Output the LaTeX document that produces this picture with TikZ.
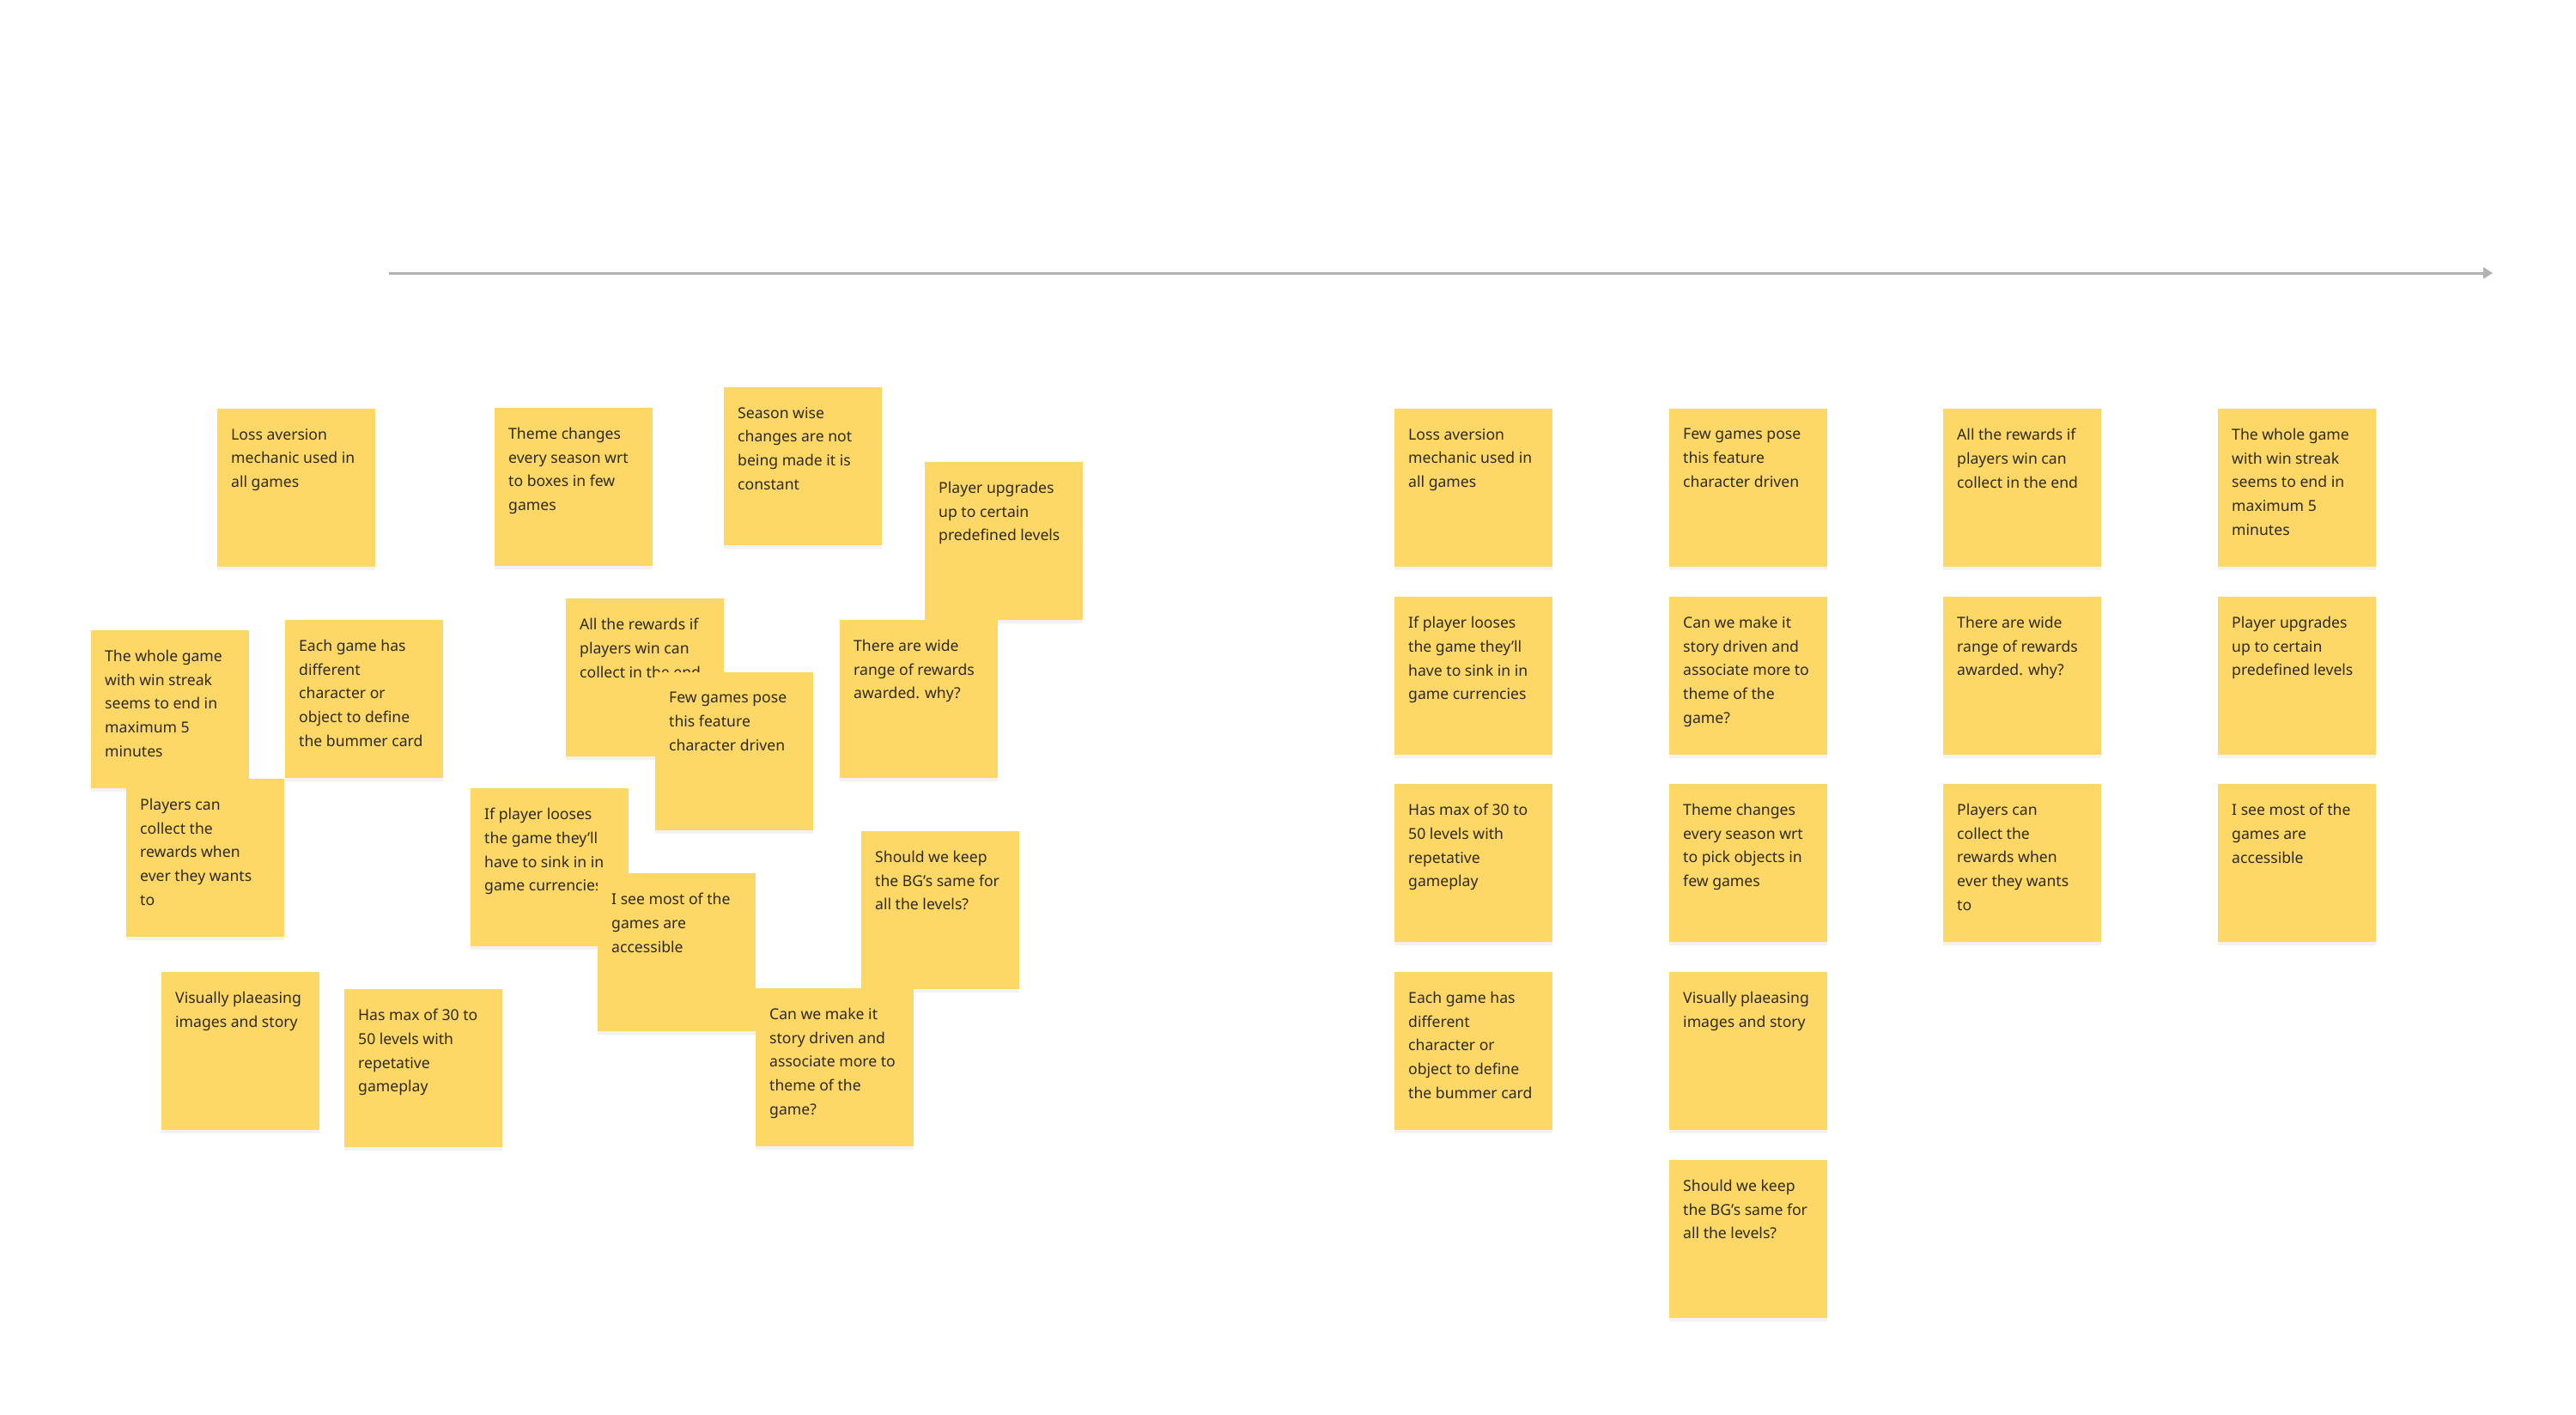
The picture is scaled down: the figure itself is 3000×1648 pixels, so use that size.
\documentclass[tikz,border=0pt]{standalone}
\usepackage{fontspec}
\setmainfont{Noto Sans}
\usepackage{xcolor}
\usepackage{tikz}
\usetikzlibrary{arrows.meta,shadows}

\definecolor{stickyfill}{RGB}{253,216,102}
\definecolor{stickyink}{RGB}{45,42,35}
\definecolor{axisgray}{RGB}{178,178,178}

\begin{document}
\begin{tikzpicture}[
    x=1pt, y=-1pt,
    sticky/.style={fill=stickyfill, anchor=north west, inner sep=0pt,
        minimum width=184pt, minimum height=184pt,
        drop shadow={shadow xshift=0pt, shadow yshift=-4pt, opacity=0.1}},
    stickytext/.style={anchor=north west, inner sep=0pt, align=left,
        text=stickyink, font=\fontsize{17.6}{27.7}\selectfont},
    faint/.style={text=white, inner sep=1pt}
]
    \fill[white] (0,0) rectangle (3000,1648);
    \useasboundingbox (0,0) rectangle (3000,1648);

    \node[faint, anchor=base west, font=\fontsize{44}{50}\selectfont] (title) at (270,153) {Card Sorting | Data Vetting};
    \node[faint, anchor=base west, font=\fontsize{29}{34}\selectfont] (unorg) at (275,330) {Unorganized};
    \coordinate (axisend) at (2903,318);
    \draw[axisgray, line width=3pt, -{Triangle[length=11pt,width=13pt]}] (unorg.east |- axisend) -- (axisend);

    % unsorted pile
    \node[sticky] (la1) at (253,476) {};
    \node[stickytext] (la1t) at ([shift={(16,23)}]la1.north west) {Loss aversion\\mechanic used in\\all games};
    \node[sticky] (tc1) at (576,475) {};
    \node[stickytext] (tc1t) at ([shift={(16,23)}]tc1.north west) {Theme changes\\every season wrt\\to boxes in few\\games};
    \node[sticky] (sw1) at (843,451) {};
    \node[stickytext] (sw1t) at ([shift={(16,23)}]sw1.north west) {Season wise\\changes are not\\being made it is\\constant};
    \node[sticky] (pu1) at (1077,538) {};
    \node[stickytext] (pu1t) at ([shift={(16,23)}]pu1.north west) {Player upgrades\\up to certain\\predefined levels};
    \node[sticky] (wg1) at (106,734) {};
    \node[stickytext] (wg1t) at ([shift={(16,23)}]wg1.north west) {The whole game\\with win streak\\seems to end in\\maximum 5\\minutes};
    \node[sticky] (eg1) at (332,722) {};
    \node[stickytext] (eg1t) at ([shift={(16,23)}]eg1.north west) {Each game has\\different\\character or\\object to define\\the bummer card};
    \node[sticky] (ar1) at (659,697) {};
    \node[stickytext] (ar1t) at ([shift={(16,23)}]ar1.north west) {All the rewards if\\players win can\\collect in the end};
    \node[sticky] (fg1) at (763,783) {};
    \node[stickytext] (fg1t) at ([shift={(16,23)}]fg1.north west) {Few games pose\\this feature\\character driven};
    \node[sticky] (wr1) at (978,722) {};
    \node[stickytext] (wr1t) at ([shift={(16,23)}]wr1.north west) {There are wide\\range of rewards\\awarded. why?};
    \node[sticky] (pc1) at (147,907) {};
    \node[stickytext] (pc1t) at ([shift={(16,23)}]pc1.north west) {Players can\\collect the\\rewards when\\ever they wants\\to};
    \node[sticky] (ip1) at (548,918) {};
    \node[stickytext] (ip1t) at ([shift={(16,23)}]ip1.north west) {If player looses\\the game they’ll\\have to sink in in\\game currencies};
    \node[sticky] (is1) at (696,1017) {};
    \node[stickytext] (is1t) at ([shift={(16,23)}]is1.north west) {I see most of the\\games are\\accessible};
    \node[sticky] (sk1) at (1003,968) {};
    \node[stickytext] (sk1t) at ([shift={(16,23)}]sk1.north west) {Should we keep\\the BG’s same for\\all the levels?};
    \node[sticky] (vp1) at (188,1132) {};
    \node[stickytext] (vp1t) at ([shift={(16,23)}]vp1.north west) {Visually plaeasing\\images and story};
    \node[sticky] (hm1) at (401,1152) {};
    \node[stickytext] (hm1t) at ([shift={(16,23)}]hm1.north west) {Has max of 30 to\\50 levels with\\repetative\\gameplay};
    \node[sticky] (cm1) at (880,1151) {};
    \node[stickytext] (cm1t) at ([shift={(16,23)}]cm1.north west) {Can we make it\\story driven and\\associate more to\\theme of the\\game?};

    % sorted columns
    \foreach \n/\x/\y/\t in {
        a/1624/476/{Loss aversion\\mechanic used in\\all games},
        b/1624/695/{If player looses\\the game they’ll\\have to sink in in\\game currencies},
        c/1624/913/{Has max of 30 to\\50 levels with\\repetative\\gameplay},
        d/1624/1132/{Each game has\\different\\character or\\object to define\\the bummer card},
        e/1944/476/{Few games pose\\this feature\\character driven},
        f/1944/695/{Can we make it\\story driven and\\associate more to\\theme of the\\game?},
        g/1944/913/{Theme changes\\every season wrt\\to pick objects in\\few games},
        h/1944/1132/{Visually plaeasing\\images and story},
        i/1944/1351/{Should we keep\\the BG’s same for\\all the levels?},
        j/2263/476/{All the rewards if\\players win can\\collect in the end},
        k/2263/695/{There are wide\\range of rewards\\awarded. why?},
        l/2263/913/{Players can\\collect the\\rewards when\\ever they wants\\to},
        m/2583/476/{The whole game\\with win streak\\seems to end in\\maximum 5\\minutes},
        n/2583/695/{Player upgrades\\up to certain\\predefined levels},
        o/2583/913/{I see most of the\\games are\\accessible}} {
        \node[sticky] (s\n) at (\x,\y) {};
        \node[stickytext] (s\n t) at ([shift={(16,23)}]s\n.north west) {\t};
    }
\end{tikzpicture}
\end{document}
